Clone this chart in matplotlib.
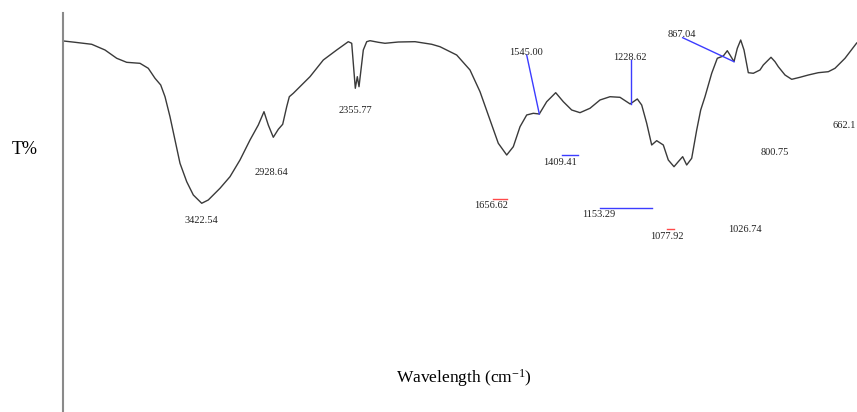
import matplotlib
matplotlib.use("Agg")
import matplotlib.pyplot as plt
import numpy as np

plt.rcParams['font.family'] = ['Liberation Serif', 'DejaVu Serif']
plt.rcParams['mathtext.fontset'] = 'custom'
plt.rcParams['mathtext.rm'] = 'Liberation Serif'
plt.rcParams['mathtext.it'] = 'Liberation Serif:italic'

# FTIR spectrum: wavenumber (cm-1) and transmittance (%)
wavenumber = [4000, 3945.6, 3869.9, 3809.6, 3756.5, 3711.2, 3650.9, 3613.3, 3582.9, 3557.0,
              3537.5, 3514.9, 3492.2, 3469.5, 3439.1, 3409.2, 3371.1, 3341.2, 3288.2, 3242.8,
              3197.5, 3152.1, 3114.5, 3088.7, 3069.2, 3046.5, 3023.8, 3003.9, 2985.7, 2973.9,
              2955.8, 2880.1, 2819.8, 2759.0, 2706.5, 2691.0, 2674.7, 2665.6, 2657.9, 2638.4,
              2623.0, 2608.1, 2570.4, 2540.1, 2479.8, 2404.0, 2328.3, 2290.7, 2215.0, 2154.7,
              2109.3, 2063.9, 2026.4, 1988.2, 1958.3, 1927.8, 1897.6, 1867.7, 1840.4, 1806.9,
              1766.1, 1731.6, 1693.6, 1655.9, 1610.6, 1565.2, 1519.9, 1474.6, 1428.5, 1396.1,
              1376.2, 1353.5, 1330.9, 1308.2, 1278.2, 1255.6, 1229.7, 1210.3, 1190.4, 1172.2,
              1149.5, 1126.8, 1108.7, 1089.2, 1058.8, 1033.4, 1006.2, 988.1, 975.8, 957.7,
              942.7, 927.3, 912.3, 892.8, 870.1, 839.8, 824.8, 789.9, 771.8, 756.8,
              726.4, 696.0, 658.4, 620.8, 575.5, 530.0, 499.8, 484.8, 454.4, 401.4]
transmittance = [93.0, 92.66, 92.16, 90.73, 88.65, 87.64, 87.39, 86.14, 83.64, 81.96,
                 79.02, 74.01, 68.17, 62.33, 57.72, 54.39, 52.31, 53.14, 56.07, 58.98,
                 63.16, 68.17, 71.93, 75.27, 71.93, 68.85, 70.85, 72.11, 76.52, 79.02,
                 79.88, 84.04, 88.22, 90.73, 92.81, 92.41, 81.13, 84.04, 81.53, 90.73,
                 92.81, 93.06, 92.66, 92.41, 92.73, 92.81, 92.16, 91.55, 89.47, 85.72,
                 80.28, 73.19, 67.35, 64.41, 66.49, 71.51, 74.44, 74.86, 74.69, 77.77,
                 80.03, 77.77, 75.69, 75.02, 76.12, 78.20, 79.02, 78.87, 77.20, 78.45,
                 76.94, 72.36, 66.92, 68.00, 66.92, 63.16, 61.48, 62.74, 63.99, 61.91,
                 63.59, 70.68, 75.69, 79.02, 84.89, 88.65, 89.22, 90.55, 89.47, 87.80,
                 91.15, 93.23, 90.73, 85.04, 84.89, 85.72, 86.97, 88.90, 87.80, 86.54,
                 84.46, 83.38, 83.89, 84.46, 85.04, 85.29, 86.14, 86.97, 88.65, 92.48]

# peak labels and where they sit on the plot
peak_labels = ['3422.54', '2928.64', '2355.77', '1656.62', '1545.00', '1409.41', '1228.62',
               '867.04', '1153.29', '1077.92', '1026.74', '800.75', '662.1']
label_x = [3371.1, 3053.8, 2674.7, 2058.1, 1901.7, 1746.6, 1430.6,
           1194.8, 1571.1, 1262.8, 907.8, 770.4, 404.5]
label_y = [48.05, 59.90, 75.52, 51.63, 90.15, 62.58, 88.80,
           94.66, 49.38, 43.94, 45.62, 64.99, 71.76]
label_ha = ['center'] * 12 + ['right']

fig = plt.figure(figsize=(8.57, 4.12), dpi=100)
ax = fig.add_axes([63 / 857, 0, 794 / 857, 399 / 412])
ax.set_xlim(4000, 400)
ax.set_ylim(0, 100)

ax.plot(wavenumber, transmittance, color='#3a3a3a', linewidth=1.0,
        solid_joinstyle='round')

for txt, x, y, ha in zip(peak_labels, label_x, label_y, label_ha):
    ax.text(x, y, txt, fontsize=7.5, ha=ha, va='center', color='#222222')

wn_rev = wavenumber[::-1]
t_rev = transmittance[::-1]


def curve_at(x):
    return np.interp(x, wn_rev, t_rev)


blue = '#3c3cff'
red = '#ff4a4a'
# leader lines from labels down to the curve
ax.plot([1897.6, 1840.4], [89.47, curve_at(1840.4)], color=blue, lw=1.0)
ax.plot([1426.1, 1426.1], [88.22, curve_at(1426.1)], color=blue, lw=1.0)
ax.plot([1190.4, 957.7], [93.81, curve_at(957.7)], color=blue, lw=1.0)
# underline marks
ax.plot([1738.9, 1663.6], [64.41, 64.41], color=blue, lw=1.0)
ax.plot([1565.2, 1330.9], [51.06, 51.06], color=blue, lw=1.0)
ax.plot([2049.1, 1985.6], [53.39, 53.39], color=red, lw=1.0)
ax.plot([1260.3, 1229.9], [45.94, 45.94], color=red, lw=1.0)

for side in ['top', 'right', 'bottom']:
    ax.spines[side].set_visible(False)
ax.spines['left'].set_color('#8a8a8a')
ax.spines['left'].set_linewidth(1.5)
ax.set_xticks([])
ax.set_yticks([])

fig.text(25 / 857, 1 - 149 / 412, 'T%', fontsize=13, ha='center', va='center')
fig.text(464 / 857, 1 - 378 / 412, 'Wavelength (cm$^{-1}$)', fontsize=12.5,
         ha='center', va='center')

fig.savefig('out.png', dpi=100)
